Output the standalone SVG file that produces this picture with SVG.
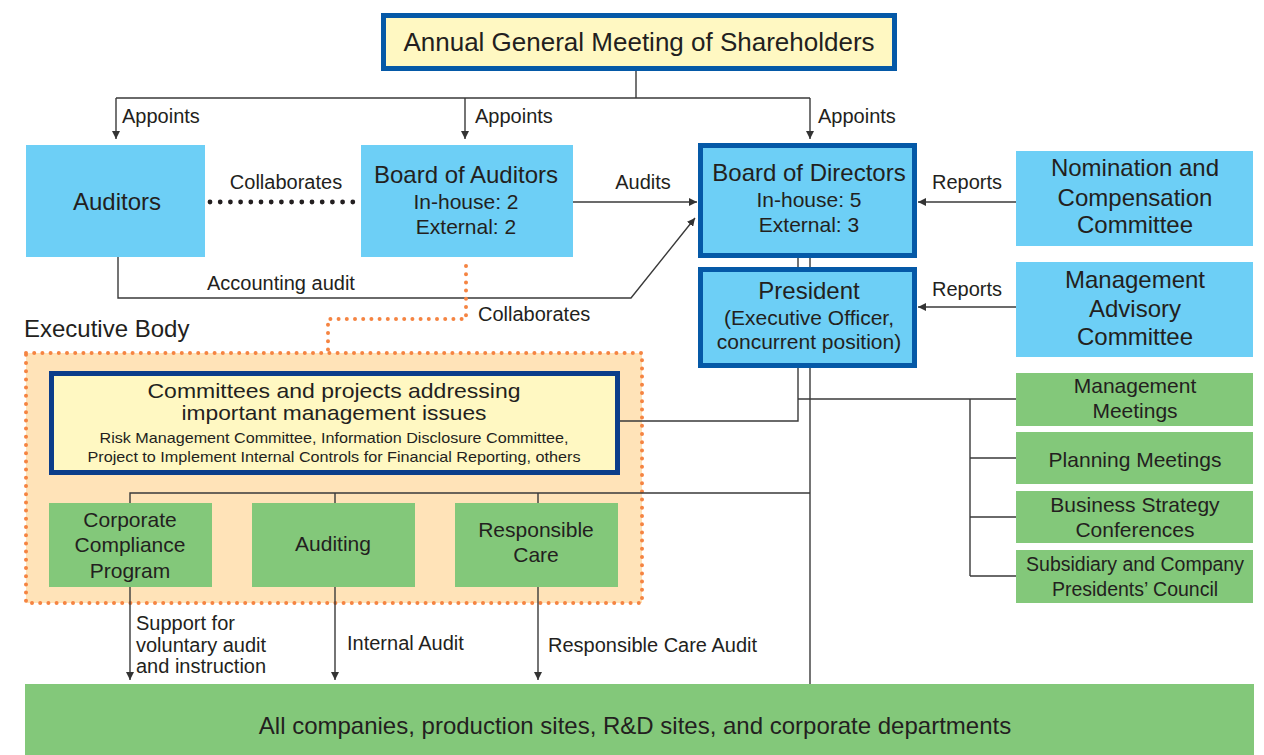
<svg xmlns="http://www.w3.org/2000/svg" width="1264" height="755" viewBox="0 0 1264 755">
<defs>
<marker id="arr" viewBox="0 0 10 10" refX="10" refY="5" markerWidth="8" markerHeight="8" markerUnits="userSpaceOnUse" orient="auto">
<path d="M0,0 L10,5 L0,10 z" fill="#333"/>
</marker>
<style>
text{font-family:"Liberation Sans",Arial,sans-serif;fill:#231f20;}
.t24{font-size:24px;text-anchor:middle;}
.t21{font-size:21px;text-anchor:middle;}
.lbl{font-size:20px;}
.blue{fill:#6dcff6;}
.green{fill:#83c87a;}
.thick{fill:#6dcff6;stroke:#0559a7;stroke-width:5;}
.ln{fill:none;stroke:#3a3a3a;stroke-width:1.4;}
.arr{fill:none;stroke:#3a3a3a;stroke-width:1.4;marker-end:url(#arr);}
.odot{fill:none;stroke:#f58442;stroke-width:4;stroke-linecap:round;stroke-dasharray:0 8.2;}
</style>
</defs>
<rect width="1264" height="755" fill="#fff"/>

<g id="exec-body">
<rect x="26" y="353" width="616" height="250" fill="#ffe3b8"/>
<rect x="26" y="353" width="616" height="250" class="odot"/>
<text x="24" y="337" style="font-size:24px">Executive Body</text>
</g>

<g id="connectors">
<path class="ln" d="M636,71 V98 M116,98 H810"/>
<path class="arr" d="M116,98 V139"/>
<path class="arr" d="M465,98 V139"/>
<path class="arr" d="M810,98 V139"/>
<path d="M210,202 H354" fill="none" stroke="#231f20" stroke-width="4.8" stroke-linecap="round" stroke-dasharray="0 10.2"/>
<path class="arr" d="M573,202 H697"/>
<path class="arr" d="M1016,202 H918"/>
<path class="arr" d="M1016,307 H918"/>
<path class="arr" d="M118,257 V298 H631 L695,218"/>
<path class="odot" d="M466,266 V319 H328 V351"/>
<path class="ln" d="M798,258 V268 M810,258 V268"/>
<path class="ln" d="M798,368 V421 H620"/>
<path class="ln" d="M810,368 V684"/>
<path class="ln" d="M798,399 H1016"/>
<path class="ln" d="M970,399 V576 M970,458 H1016 M970,517 H1016 M970,576 H1016"/>
<path class="ln" d="M130,503 V493 H810 M335,493 V503 M538,493 V503"/>
<path class="arr" d="M130,587 V680"/>
<path class="arr" d="M335,587 V680"/>
<path class="arr" d="M538,587 V680"/>
<text class="lbl" x="122" y="123">Appoints</text>
<text class="lbl" x="475" y="123">Appoints</text>
<text class="lbl" x="818" y="123">Appoints</text>
<text class="lbl" x="286" y="189" text-anchor="middle">Collaborates</text>
<text class="lbl" x="643" y="189" text-anchor="middle">Audits</text>
<text class="lbl" x="967" y="189" text-anchor="middle">Reports</text>
<text class="lbl" x="967" y="296" text-anchor="middle">Reports</text>
<text class="lbl" x="207" y="290">Accounting audit</text>
<text class="lbl" x="478" y="321">Collaborates</text>
<text class="lbl" x="136" y="630">Support for</text>
<text class="lbl" x="136" y="652">voluntary audit</text>
<text class="lbl" x="136" y="673">and instruction</text>
<text class="lbl" x="347" y="650">Internal Audit</text>
<text class="lbl" x="548" y="652">Responsible Care Audit</text>
</g>

<g id="agm">
<rect x="383.5" y="15.5" width="511" height="53" fill="#fff8c2" stroke="#0559a7" stroke-width="5"/>
<text x="639" y="51" style="font-size:26px;text-anchor:middle">Annual General Meeting of Shareholders</text>
</g>

<g id="auditors">
<rect class="blue" x="26" y="145" width="179" height="112"/>
<text class="t24" x="117" y="210">Auditors</text>
</g>

<g id="board-of-auditors">
<rect class="blue" x="361" y="145" width="212" height="112"/>
<text class="t24" x="466" y="183">Board of Auditors</text>
<text class="t21" x="466" y="209">In-house: 2</text>
<text class="t21" x="466" y="234">External: 2</text>
</g>

<g id="board-of-directors">
<rect class="thick" x="700.5" y="145.5" width="214" height="110"/>
<text class="t24" x="809" y="181">Board of Directors</text>
<text class="t21" x="809" y="207">In-house: 5</text>
<text class="t21" x="809" y="232">External: 3</text>
</g>

<g id="nomination">
<rect class="blue" x="1016" y="151" width="237" height="95"/>
<text class="t24" x="1135" y="176">Nomination and</text>
<text class="t24" x="1135" y="206">Compensation</text>
<text class="t24" x="1135" y="233">Committee</text>
</g>

<g id="president">
<rect class="thick" x="700.5" y="269.5" width="214" height="96"/>
<text class="t24" x="809" y="299">President</text>
<text class="t21" x="809" y="325">(Executive Officer,</text>
<text class="t21" x="809" y="349">concurrent position)</text>
</g>

<g id="mgmt-advisory">
<rect class="blue" x="1016" y="262" width="237" height="95"/>
<text class="t24" x="1135" y="288">Management</text>
<text class="t24" x="1135" y="317">Advisory</text>
<text class="t24" x="1135" y="345">Committee</text>
</g>

<g id="committees">
<rect x="51.5" y="373.5" width="566" height="99" fill="#fff8c2" stroke="#0b3d8a" stroke-width="5"/>
<text x="334" y="398" style="font-size:21px;text-anchor:middle" textLength="373" lengthAdjust="spacingAndGlyphs">Committees and projects addressing</text>
<text x="334" y="420" style="font-size:21px;text-anchor:middle" textLength="305" lengthAdjust="spacingAndGlyphs">important management issues</text>
<text x="334" y="443" style="font-size:15px;text-anchor:middle" textLength="469" lengthAdjust="spacingAndGlyphs">Risk Management Committee, Information Disclosure Committee,</text>
<text x="334" y="462" style="font-size:15px;text-anchor:middle" textLength="493" lengthAdjust="spacingAndGlyphs">Project to Implement Internal Controls for Financial Reporting, others</text>
</g>

<g id="mgmt-meetings">
<rect class="green" x="1016" y="373" width="237" height="53"/>
<text class="t21" x="1135" y="393">Management</text>
<text class="t21" x="1135" y="418">Meetings</text>
</g>
<g id="planning-meetings">
<rect class="green" x="1016" y="432" width="237" height="52"/>
<text class="t21" x="1135" y="467">Planning Meetings</text>
</g>
<g id="business-strategy">
<rect class="green" x="1016" y="491" width="237" height="52"/>
<text class="t21" x="1135" y="512">Business Strategy</text>
<text class="t21" x="1135" y="537">Conferences</text>
</g>
<g id="subsidiary-council">
<rect class="green" x="1016" y="550" width="237" height="53"/>
<text x="1135" y="571" style="font-size:19.5px;text-anchor:middle">Subsidiary and Company</text>
<text x="1135" y="596" style="font-size:19.5px;text-anchor:middle">Presidents’ Council</text>
</g>

<g id="compliance">
<rect class="green" x="49" y="503" width="163" height="84"/>
<text class="t21" x="130" y="527">Corporate</text>
<text class="t21" x="130" y="552">Compliance</text>
<text class="t21" x="130" y="578">Program</text>
</g>
<g id="auditing">
<rect class="green" x="252" y="503" width="163" height="84"/>
<text class="t21" x="333" y="551">Auditing</text>
</g>
<g id="responsible-care">
<rect class="green" x="455" y="503" width="163" height="84"/>
<text class="t21" x="536" y="537">Responsible</text>
<text class="t21" x="536" y="562">Care</text>
</g>

<g id="all-companies">
<rect class="green" x="25" y="684" width="1229" height="71"/>
<text class="t24" x="635" y="734">All companies, production sites, R&amp;D sites, and corporate departments</text>
</g>
</svg>
